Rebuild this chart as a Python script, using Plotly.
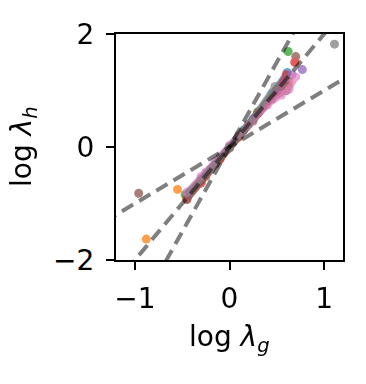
import plotly.graph_objects as go

# band of each run (log lambda_g, log lambda_h), tab10 colours
series = {
    "#1f77b4": ([-0.44, -0.3, -0.15, 0.0, 0.15, 0.3, 0.45, 0.61],
                [-0.86, -0.6, -0.3, 0.0, 0.3, 0.62, 0.95, 1.32]),
    "#ff7f0e": ([-0.46, -0.3, -0.1, 0.1, 0.3, 0.5, 0.63],
                [-0.86, -0.58, -0.2, 0.2, 0.6, 0.98, 1.16]),
    "#2ca02c": ([-0.47, -0.3, -0.1, 0.1, 0.3, 0.5],
                [-0.84, -0.56, -0.18, 0.2, 0.62, 1.02]),
    "#d62728": ([-0.45, -0.3, -0.1, 0.1, 0.3, 0.5, 0.6],
                [-0.93, -0.64, -0.22, 0.18, 0.6, 1.0, 1.28]),
    "#9467bd": ([-0.44, -0.25, 0.0, 0.25, 0.5, 0.66],
                [-0.84, -0.45, 0.0, 0.5, 0.98, 1.28]),
    "#8c564b": ([-0.45, -0.25, 0.0, 0.25, 0.45, 0.6, 0.62],
                [-0.92, -0.52, -0.02, 0.46, 0.85, 1.0, 1.08]),
    "#e377c2": ([-0.45, -0.3, -0.15, 0.0, 0.2, 0.4, 0.55, 0.63, 0.7],
                [-0.8, -0.52, -0.25, 0.03, 0.4, 0.74, 0.92, 1.02, 1.24]),
    "#7f7f7f": ([-0.42, -0.2, 0.0, 0.2, 0.48],
                [-0.8, -0.4, 0.0, 0.4, 1.07]),
}

# isolated points
out_x = [1.11, -0.96, -0.88, -0.55, 0.62, 0.70, 0.69, 0.77]
out_y = [1.82, -0.82, -1.63, -0.75, 1.69, 1.60, 1.50, 1.37]
out_c = ["#7f7f7f", "#8c564b", "#ff7f0e", "#ff7f0e",
         "#2ca02c", "#8c564b", "#d62728", "#9467bd"]

# reference lines through the origin
slopes = [1, 2, 3]
line_x = [-1.5, 1.5]

fig = go.Figure()

for col, (xs, ys) in series.items():
    fig.add_trace(go.Scatter(x=xs, y=ys, mode="lines+markers",
                             line=dict(color=col, width=6),
                             marker=dict(color=col, size=9),
                             opacity=0.65, showlegend=False))

fig.add_trace(go.Scatter(x=out_x, y=out_y, mode="markers",
                         marker=dict(color=out_c, size=9),
                         opacity=0.75, showlegend=False))

for s in slopes:
    fig.add_trace(go.Scatter(x=line_x, y=[s * v for v in line_x], mode="lines",
                             line=dict(color="rgba(0,0,0,0.5)", width=4, dash="13px,7px"),
                             showlegend=False))

axis = dict(showline=True, linecolor="black", linewidth=2, mirror=True,
            ticks="outside", ticklen=8, tickwidth=2, tickcolor="black",
            showgrid=False, zeroline=False, automargin=False,
            tickfont=dict(size=28, color="black"))

fig.update_xaxes(range=[-1.2, 1.2], tickvals=[-1, 0, 1], ticklabelstandoff=4, **axis)
fig.update_yaxes(range=[-2, 2], tickvals=[-2, 0, 2], ticklabelstandoff=6, **axis)

# axis titles as annotations so they can be placed exactly
lab = dict(size=28, color="black")
fig.add_annotation(text="log <i>λ<sub>g</sub></i>", xref="paper", yref="paper",
                   x=0.5, y=0, yshift=-78, xanchor="center", yanchor="middle",
                   showarrow=False, font=lab)
fig.add_annotation(text="log <i>λ<sub>h</sub></i>", xref="paper", yref="paper",
                   x=0, y=0.5, xshift=-93, xanchor="center", yanchor="middle",
                   textangle=-90, showarrow=False, font=lab, borderpad=0)

# page body adds an 8px offset, so the figure is a little smaller than the window
fig.update_layout(width=358, height=376,
                  margin=dict(l=108, r=23, t=26, b=124),
                  plot_bgcolor="white", paper_bgcolor="white",
                  font=dict(family="DejaVu Sans"))

fig.write_html("out.html")
